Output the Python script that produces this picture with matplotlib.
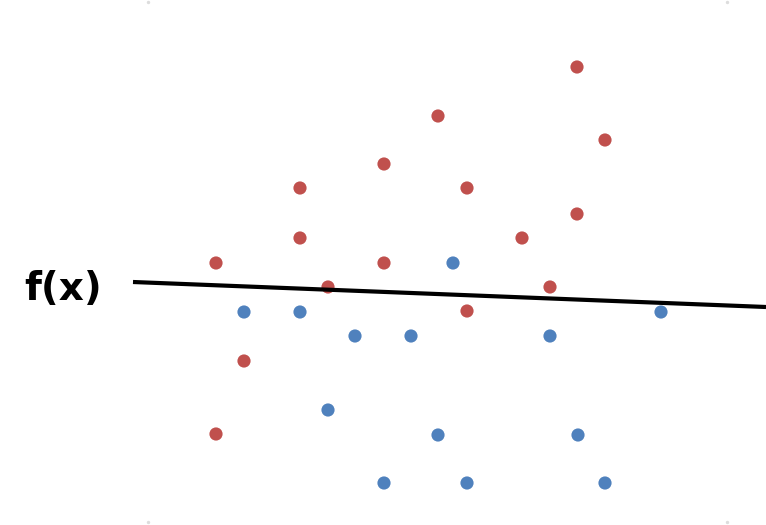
import matplotlib
matplotlib.use("Agg")
import matplotlib.pyplot as plt

# Coordinates in picture units (x to the right, y downward)
red_x = [577, 438, 605, 384, 300, 467, 577, 300, 522, 216, 384, 328, 550, 467, 244, 216]
red_y = [67, 116, 140, 164, 188, 188, 214, 238, 238, 263, 263, 287, 287, 311, 361, 434]
blue_x = [453, 244, 300, 661, 355, 411, 550, 328, 438, 578, 384, 467, 605]
blue_y = [263, 312, 312, 312, 336, 336, 336, 410, 435, 435, 483, 483, 483]
line_x = [133, 766]
line_y = [282, 307]
corner_x = [148, 148, 727, 727]
corner_y = [2, 522, 2, 522]
label = "f(x)"

fig = plt.figure(figsize=(7.66, 5.25), dpi=100)
ax = fig.add_axes([0, 0, 1, 1])
ax.set_xlim(0, 766)
ax.set_ylim(525, 0)
ax.axis("off")

ax.scatter(corner_x, corner_y, s=2, color="#dddddd", zorder=1)
ax.scatter(red_x, red_y, s=90, color="#C0504D", edgecolors="none", zorder=2)
ax.scatter(blue_x, blue_y, s=90, color="#4F81BD", edgecolors="none", zorder=2)
ax.plot(line_x, line_y, color="black", linewidth=3.0, solid_capstyle="butt", zorder=3)
ax.text(63, 289, label, fontsize=28, fontweight="bold", ha="center", va="center",
        color="black", family=["DejaVu Sans"])

fig.savefig("out.png", dpi=100)
